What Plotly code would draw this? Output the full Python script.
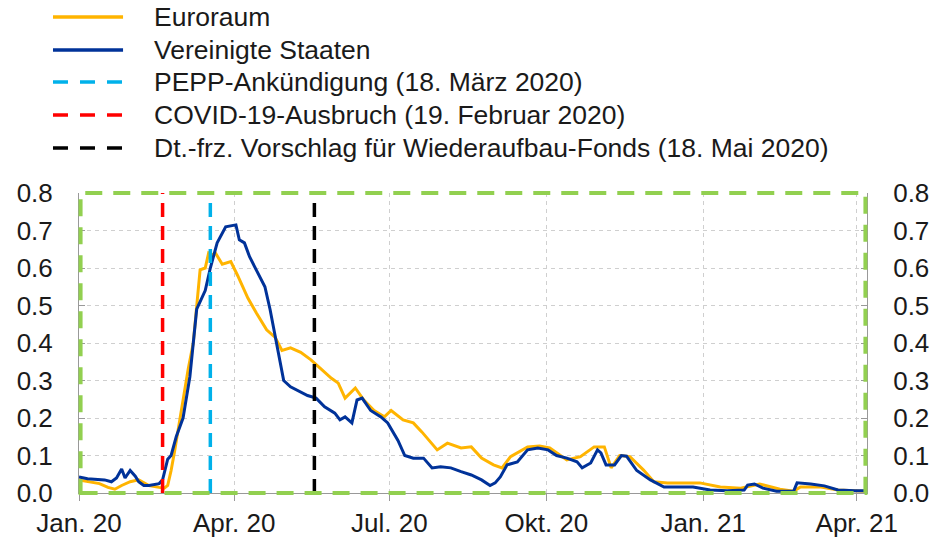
import plotly.graph_objects as go

# ---- data ----
euro_dates = ["2020-01-01","2020-01-07","2020-01-13","2020-01-18","2020-01-22","2020-01-26","2020-01-31",
    "2020-02-05","2020-02-11","2020-02-17","2020-02-20","2020-02-22","2020-02-24","2020-02-26","2020-02-29",
    "2020-03-02","2020-03-05","2020-03-08","2020-03-10","2020-03-12","2020-03-15","2020-03-17","2020-03-19",
    "2020-03-21","2020-03-25","2020-03-30","2020-04-03","2020-04-09","2020-04-14","2020-04-20","2020-04-25",
    "2020-04-29","2020-05-04","2020-05-10","2020-05-16","2020-05-22","2020-05-28","2020-06-01","2020-06-05",
    "2020-06-11","2020-06-16","2020-06-22","2020-06-28","2020-07-02","2020-07-09","2020-07-15","2020-07-20",
    "2020-07-29","2020-08-04","2020-08-12","2020-08-18","2020-08-24","2020-08-31","2020-09-05","2020-09-10",
    "2020-09-20","2020-09-27","2020-10-03","2020-10-13","2020-10-21","2020-10-29","2020-11-04","2020-11-08",
    "2020-11-13","2020-11-19","2020-11-27","2020-12-03","2020-12-11","2020-12-23","2020-12-30","2021-01-11",
    "2021-01-23","2021-02-03","2021-02-15","2021-02-23","2021-02-27","2021-03-11","2021-03-21","2021-04-06"]
euro_values = [0.035,0.030,0.025,0.015,0.010,0.020,0.030,
    0.035,0.020,0.015,0.013,0.020,0.060,0.110,0.190,
    0.255,0.330,0.400,0.500,0.595,0.600,0.640,0.635,
    0.640,0.610,0.617,0.580,0.520,0.480,0.435,0.415,
    0.380,0.387,0.375,0.355,0.330,0.306,0.293,0.253,
    0.280,0.248,0.220,0.203,0.220,0.195,0.187,0.163,
    0.115,0.133,0.120,0.123,0.093,0.075,0.067,0.097,
    0.123,0.125,0.120,0.088,0.097,0.123,0.123,0.067,
    0.100,0.097,0.061,0.030,0.027,0.027,0.027,0.016,
    0.013,0.024,0.010,0.005,0.016,0.016,0.008,0.005]

us_dates = ["2020-01-01","2020-01-06","2020-01-10","2020-01-16","2020-01-20","2020-01-23","2020-01-26",
    "2020-01-28","2020-01-31","2020-02-03","2020-02-05","2020-02-08","2020-02-11","2020-02-17","2020-02-19",
    "2020-02-22","2020-02-24","2020-02-27","2020-03-02","2020-03-06","2020-03-10","2020-03-15","2020-03-18",
    "2020-03-22","2020-03-27","2020-04-02","2020-04-04","2020-04-07","2020-04-10","2020-04-14","2020-04-19",
    "2020-04-22","2020-04-26","2020-04-30","2020-05-04","2020-05-10","2020-05-14","2020-05-19","2020-05-24",
    "2020-05-30","2020-06-02","2020-06-05","2020-06-09","2020-06-12","2020-06-15","2020-06-20","2020-06-26",
    "2020-06-30","2020-07-06","2020-07-10","2020-07-15","2020-07-21","2020-07-26","2020-07-31","2020-08-06",
    "2020-08-12","2020-08-18","2020-08-24","2020-08-29","2020-09-01","2020-09-04","2020-09-08","2020-09-14",
    "2020-09-20","2020-09-26","2020-10-02","2020-10-07","2020-10-13","2020-10-19","2020-10-22","2020-10-27",
    "2020-10-31","2020-11-02","2020-11-05","2020-11-10","2020-11-14","2020-11-17","2020-11-23","2020-12-01",
    "2020-12-09","2020-12-19","2020-12-26","2021-01-05","2021-01-15","2021-01-25","2021-01-27","2021-01-31",
    "2021-02-05","2021-02-13","2021-02-23","2021-02-25","2021-03-05","2021-03-13","2021-03-21","2021-03-31",
    "2021-04-06"]
us_values = [0.043,0.038,0.037,0.035,0.030,0.040,0.064,
    0.040,0.060,0.045,0.030,0.020,0.020,0.025,0.035,
    0.090,0.100,0.150,0.200,0.310,0.490,0.540,0.600,
    0.667,0.710,0.715,0.675,0.667,0.630,0.595,0.550,
    0.490,0.400,0.300,0.283,0.270,0.260,0.253,0.230,
    0.213,0.195,0.203,0.187,0.248,0.253,0.220,0.203,
    0.187,0.140,0.100,0.093,0.093,0.067,0.070,0.067,
    0.057,0.048,0.035,0.020,0.027,0.043,0.075,0.083,
    0.115,0.120,0.115,0.100,0.093,0.083,0.067,0.080,
    0.115,0.107,0.075,0.075,0.100,0.098,0.060,0.035,
    0.016,0.016,0.016,0.008,0.006,0.008,0.021,0.024,
    0.013,0.005,0.005,0.027,0.024,0.019,0.008,0.006,
    0.006]

series_names = ["Euroraum", "Vereinigte Staaten"]
series_colors = ["#FFB400", "#003299"]

event_names = ["PEPP-Ankündigung (18. März 2020)",
               "COVID-19-Ausbruch (19. Februar 2020)",
               "Dt.-frz. Vorschlag für Wiederaufbau-Fonds (18. Mai 2020)"]
event_dates = ["2020-03-18", "2020-02-19", "2020-05-18"]
event_colors = ["#00B1EA", "#FF0000", "#000000"]

y_min, y_max = 0.0, 0.8
x_tick_vals = ["2020-01-01","2020-04-01","2020-07-01","2020-10-01","2021-01-01","2021-04-01"]
x_tick_text = ["Jan. 20","Apr. 20","Jul. 20","Okt. 20","Jan. 21","Apr. 21"]
x_range = ["2020-01-01", "2021-04-07"]

FONT = "Arial, Liberation Sans, sans-serif"
FS = 26

fig = go.Figure()
fig.add_trace(go.Scatter(x=euro_dates, y=euro_values, mode="lines", name=series_names[0],
                         line=dict(color=series_colors[0], width=3), showlegend=False))
fig.add_trace(go.Scatter(x=us_dates, y=us_values, mode="lines", name=series_names[1],
                         line=dict(color=series_colors[1], width=3), showlegend=False))
for nm, d, c in zip(event_names, event_dates, event_colors):
    fig.add_trace(go.Scatter(x=[d, d], y=[y_min, y_max], mode="lines", name=nm, showlegend=False,
                             line=dict(color=c, width=3.5, dash="14px,9px")))
# invisible trace for the right axis
fig.add_trace(go.Scatter(x=[x_range[0]], y=[y_min], yaxis="y2", mode="lines",
                         showlegend=False, hoverinfo="skip", line=dict(width=0)))

# green dashed frame around the plot area
fig.add_shape(type="rect", xref="paper", yref="paper", x0=0.002, x1=0.998, y0=0, y1=1,
              line=dict(color="#92D050", width=4, dash="17px,11px"), layer="above")

# manual legend (paper coordinates)
leg_names = series_names + event_names
leg_colors = series_colors + event_colors
leg_dash = ["solid", "solid", "15px,12px", "15px,12px", "15px,12px"]
leg_y = [1.5867, 1.4767, 1.37, 1.26, 1.15]
for nm, c, ds, yy in zip(leg_names, leg_colors, leg_dash, leg_y):
    fig.add_shape(type="line", xref="paper", yref="paper", x0=-0.033, x1=0.0559, y0=yy, y1=yy,
                  line=dict(color=c, width=3.5, dash=ds))
    fig.add_annotation(xref="paper", yref="paper", x=0.0928, y=yy, text=nm, showarrow=False,
                       xanchor="left", yanchor="middle", font=dict(size=26.5, color="#1a1a1a"))

grid = dict(showgrid=True, gridcolor="#CFCFCF", griddash="4px,4px", gridwidth=1)
fig.update_layout(
    width=945, height=539,
    margin=dict(l=79, r=78, t=193, b=46, autoexpand=False),
    paper_bgcolor="white", plot_bgcolor="white",
    font=dict(family=FONT, size=FS, color="#1a1a1a"),
    showlegend=False,
    xaxis=dict(type="date", range=x_range, tickvals=x_tick_vals, ticktext=x_tick_text,
               ticks="outside", ticklen=7, tickcolor="#999999", showline=True,
               linecolor="#999999", linewidth=1, tickfont=dict(size=FS), **grid),
    yaxis=dict(range=[y_min, y_max], dtick=0.1, tickformat=".1f", ticks="inside",
               ticklen=6, tickcolor="#999999", showline=True, linecolor="#999999",
               ticklabelstandoff=20, tickfont=dict(size=FS), zeroline=False, **grid),
    yaxis2=dict(range=[y_min, y_max], dtick=0.1, tickformat=".1f", ticks="inside",
                ticklen=6, tickcolor="#999999", overlaying="y", side="right",
                showline=True, linecolor="#999999",
                showgrid=False, zeroline=False, ticklabelstandoff=20,
                tickfont=dict(size=FS)),
)

fig.write_html("out.html", config={"displayModeBar": False},
               post_script="document.body.style.margin='0';document.body.style.overflow='hidden';")
